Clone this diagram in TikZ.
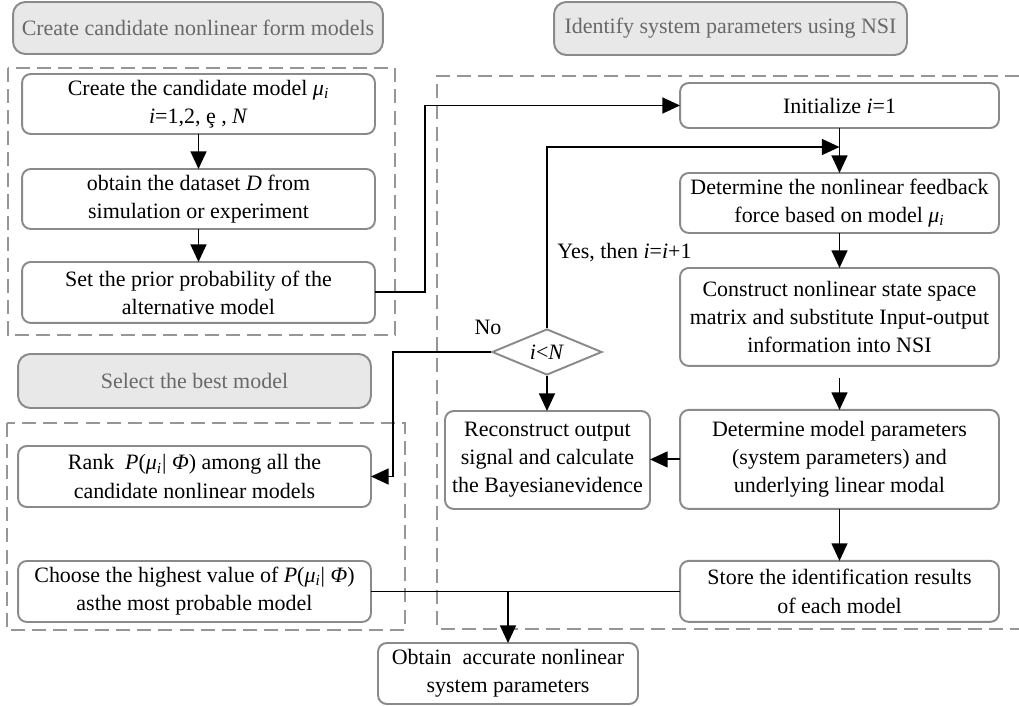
\documentclass[tikz,border=0pt]{standalone}
\usepackage{fontspec}
\setmainfont{Liberation Serif}
\usepackage{xcolor}
\usetikzlibrary{shapes.geometric,arrows.meta,positioning,calc}
\definecolor{boxgray}{RGB}{138,138,138}
\definecolor{headfill}{RGB}{232,232,232}
\definecolor{headtext}{RGB}{105,105,105}
\definecolor{dashgray}{RGB}{150,150,150}
\newcommand{\mui}{\textit{μ}\textsubscript{\textit{i}}}
\newcommand{\pmu}{\textit{P}(\mui| \textit{Φ})}

\begin{document}
\begin{tikzpicture}[x=0.02cm,y=-0.02cm,
          font=\fontsize{12.5}{16}\selectfont,
          box/.style={draw=boxgray,line width=1.1pt,rounded corners=5pt,outer sep=0pt,
                      fill=white,align=center,inner sep=2pt},
          head/.style={box,fill=headfill,text=headtext,rounded corners=7pt},
          grpbox/.style={draw=dashgray,line width=0.9pt,dash pattern=on 8pt off 4pt},
          arr/.style={-{Triangle[length=10pt,width=9pt]},line width=1.1pt},
          plain/.style={line width=1.1pt}]
        \useasboundingbox (0,0) rectangle (1019,706);
        \fill[white] (0,0) rectangle (1019,706);
        \draw[grpbox] (8,68) rectangle (395,335);
        \draw[grpbox] (7,423) rectangle (405,630);
        \draw[grpbox] (1019,76) -- (437,76) -- (437,629) -- (1019,629);
        \node[head,minimum width=7.4cm,minimum height=1.04cm] (h1) at (198,28)
          {Create candidate nonlinear form models};
        \node[head,minimum width=7.06cm,minimum height=1.06cm] (h2) at (730.5,28.5)
          {Identify system parameters using NSI};
        \node[head,minimum width=7.06cm,minimum height=1.08cm] (h3) at (194.5,381)
          {Select the best model};
        \node[box,minimum width=7.06cm,minimum height=1.2cm] (b1) at (198.5,104) {
          Create the candidate model \mui\\
          \textit{i}=1,2, ȩ , \textit{N}
        };
        \node[box,minimum width=7.06cm,minimum height=1.2cm,below=0.7cm of b1] (b2) {
          obtain the dataset \textit{D} from\\
          simulation or experiment
        };
        \node[box,minimum width=7.06cm,minimum height=1.22cm,below=0.66cm of b2] (b3) {
          Set the prior probability of the\\
          alternative model
        };
        \node[box,minimum width=7.06cm,minimum height=1.22cm] (rank) at (194.5,476.5) {
          Rank\ \ \pmu\ among all the\\
          candidate nonlinear models
        };
        \node[box,minimum width=7.06cm,minimum height=1.22cm,below=1.08cm of rank] (choose) {
          Choose the highest value of \pmu\\
          asthe most probable model
        };
        \node[box,minimum width=6.38cm,minimum height=0.9cm] (init) at (839.5,105.5)
          {Initialize \textit{i}=1};
        \node[box,minimum width=6.38cm,minimum height=1.2cm,below=0.9cm of init] (feed) {
          Determine the nonlinear feedback\\
          force based on model \mui
        };
        \node[box,minimum width=6.38cm,minimum height=1.96cm,below=0.7cm of feed] (cons) {
          Construct nonlinear state space\\
          matrix and substitute Input-output\\
          information into NSI
        };
        \node[box,minimum width=6.38cm,minimum height=1.98cm,below=0.88cm of cons] (par) {
          Determine model parameters\\
          (system parameters) and\\
          underlying linear modal
        };
        \node[box,minimum width=6.38cm,minimum height=1.22cm,below=1.04cm of par] (store) {
          Store the identification results\\
          of each model
        };
        \node[box,minimum width=4.1cm,minimum height=1.96cm] (rec) at (547.5,460) {
          Reconstruct output\\
          signal and calculate\\
          the Bayesianevidence
        };
        \node[diamond,draw=boxgray,line width=1.1pt,fill=white,aspect=2.4,inner sep=0pt,
              minimum width=2.2cm,minimum height=0.92cm] (dec) at (547,352)
          {\textit{i}<\textit{N}};
        \node[box,minimum width=5.2cm,minimum height=1.22cm] (obtain) at (508,673.5) {
          Obtain\ \ accurate nonlinear\\
          system parameters
        };
        \node (nolab) at (488,327) {No};
        \node[anchor=west,inner sep=0pt] (yeslab) at (557,253) {Yes, then \textit{i}=\textit{i}+1};
        \coordinate (loopin) at (init.south |- 0,147);
        \draw[arr] (b1) -- (b2);
        \draw[arr] (b2) -- (b3);
        \draw[arr] (b3.east) -- ++(50,0) |- (init.west);
        \draw[arr] (init) -- (feed);
        \draw[arr] (dec.north) |- (loopin);
        \draw[arr] (feed) -- (cons);
        \draw[arr] ($(cons.south)+(0,12)$) -- (par.north);
        \draw[arr] (par) -- (store);
        \draw[arr] (par.west) -- (par.west -| rec.east);
        \draw[arr] (dec.south) -- (dec.south |- rec.north);
        \draw[arr] (dec.west) -- ++(-98,0) |- (rank.east);
        \draw[plain] (choose.east) -- (choose.east -| store.west);
        \draw[arr] (obtain.north |- choose.east) -- (obtain.north);
      \end{tikzpicture}
\end{document}
